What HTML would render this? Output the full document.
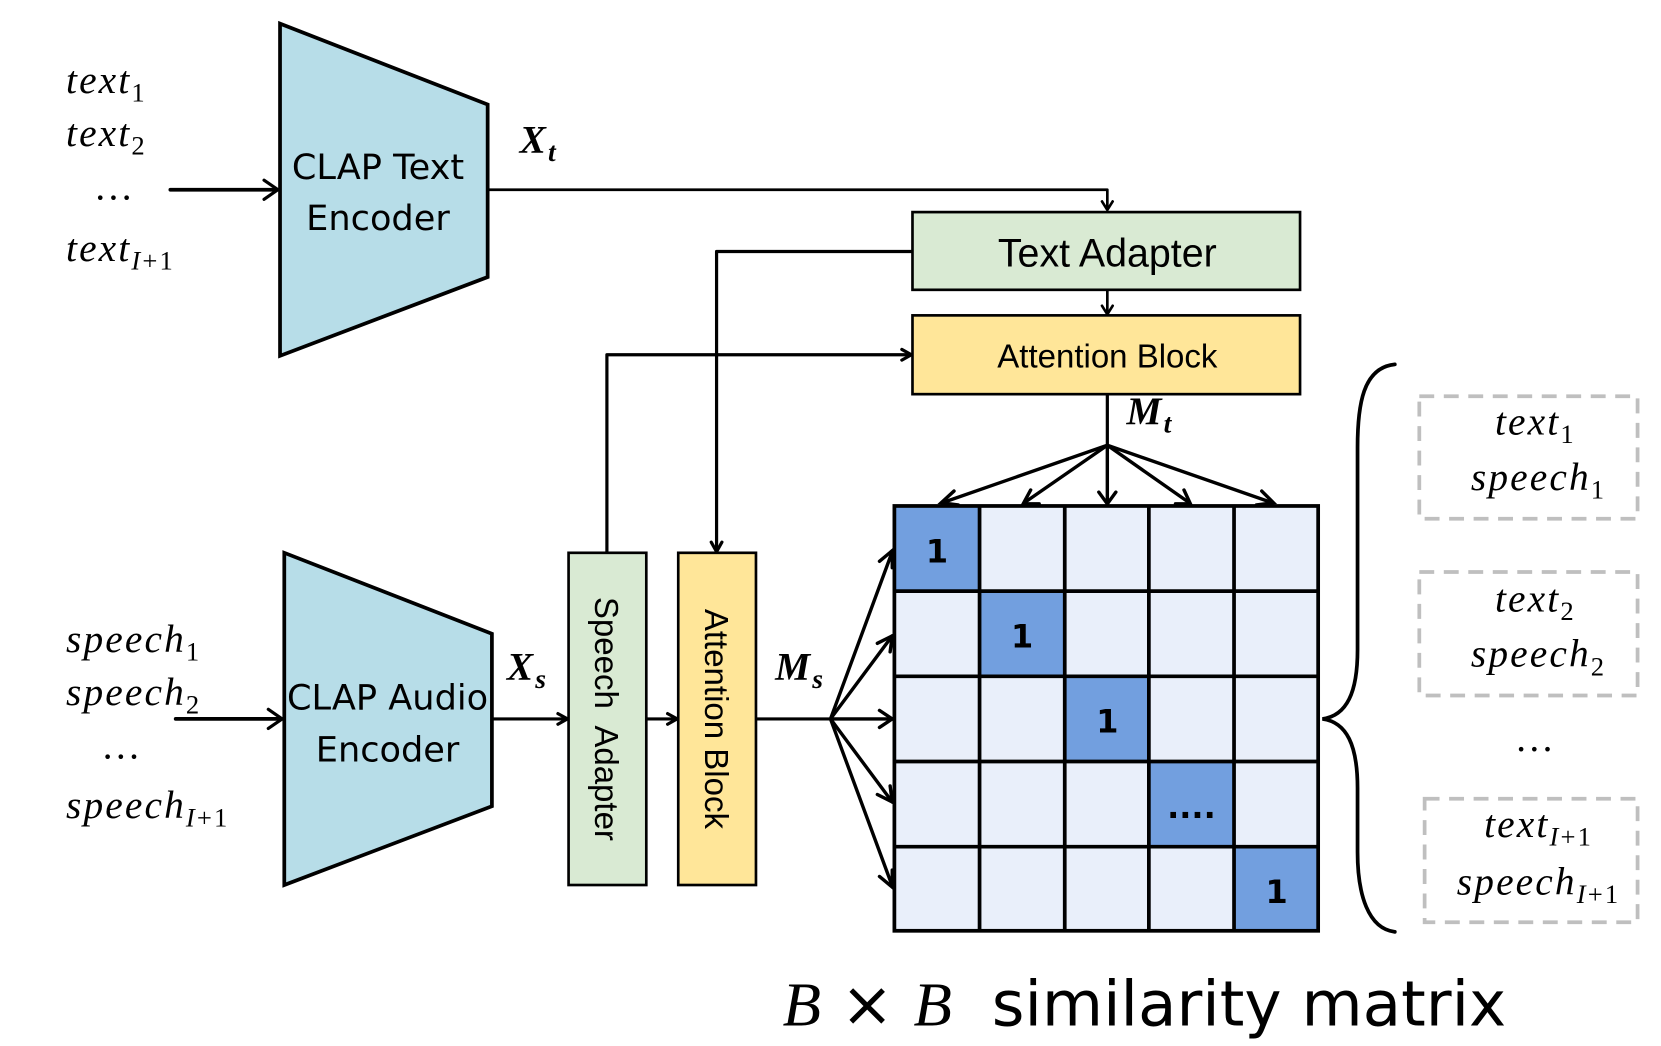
<!DOCTYPE html>
<html><head><meta charset="utf-8"><style>
html,body{margin:0;padding:0;background:#fff;}
svg{display:block;}
.m{font-family:"Liberation Serif",serif;font-style:italic;letter-spacing:2px;}
.u{font-style:normal;}
.s{font-family:"DejaVu Sans","Liberation Sans",sans-serif;}
</style></head><body>
<svg width="1661" height="1046" viewBox="0 0 1560 982" xmlns="http://www.w3.org/2000/svg">
<g fill="none" stroke="#000" stroke-width="3" stroke-linecap="round" stroke-linejoin="round">
<line x1="160" y1="178" x2="260" y2="178" stroke-width="3.5"/>
<polyline points="248,169 261,178 248,187"/>
<line x1="165" y1="675" x2="264" y2="675" stroke-width="3.5"/>
<polyline points="252,666 265,675 252,684"/>
<polyline points="458,178 1040,178 1040,196" stroke-width="2.5"/>
<polyline points="1035,189 1040,197 1045,189" stroke-width="2.5"/>
<line x1="1040" y1="272" x2="1040" y2="294" stroke-width="2.5"/>
<polyline points="1035,287 1040,295 1045,287" stroke-width="2.5"/>
<polyline points="857,236 673,236 673,517" stroke-width="3"/>
<polyline points="668,509 673,518 678,509" stroke-width="3"/>
<polyline points="570,519 570,333 855,333" stroke-width="3"/>
<polyline points="847,328 856,333 847,338" stroke-width="3"/>
<line x1="462" y1="675" x2="532" y2="675" stroke-width="3"/>
<polyline points="524,670 533,675 524,680"/>
<line x1="607" y1="675" x2="635" y2="675" stroke-width="3"/>
<polyline points="627,670 636,675 627,680"/>
<line x1="710" y1="675" x2="780" y2="675"/>
<line x1="1040" y1="370" x2="1040" y2="418"/>
</g>
<polygon points="263,22 458,98 458,260 263,334" fill="#b7dde8" stroke="#000" stroke-width="3.5"/>
<polygon points="267,519 462,595 462,757 267,831" fill="#b7dde8" stroke="#000" stroke-width="3.5"/>
<rect x="857" y="199" width="364" height="73" fill="#d9ead3" stroke="#000" stroke-width="2.5"/>
<rect x="857" y="296" width="364" height="74" fill="#ffe699" stroke="#000" stroke-width="2.5"/>
<rect x="534" y="519" width="73" height="312" fill="#d9ead3" stroke="#000" stroke-width="2.5"/>
<rect x="637" y="519" width="73" height="312" fill="#ffe699" stroke="#000" stroke-width="2.5"/>
<rect x="840" y="475" width="398" height="399" fill="#e9effa"/>
<g fill="#729fdf">
<rect x="840" y="475" width="80" height="80"/>
<rect x="920" y="555" width="80" height="80"/>
<rect x="1000" y="635" width="79" height="80"/>
<rect x="1079" y="715" width="80" height="80"/>
<rect x="1159" y="795" width="79" height="79"/>
</g>
<g stroke="#000" stroke-width="3.5" fill="none">
<rect x="840" y="475" width="398" height="399"/>
<line x1="920" y1="475" x2="920" y2="874"/><line x1="1000" y1="475" x2="1000" y2="874"/>
<line x1="1079" y1="475" x2="1079" y2="874"/><line x1="1159" y1="475" x2="1159" y2="874"/>
<line x1="840" y1="555" x2="1238" y2="555"/><line x1="840" y1="635" x2="1238" y2="635"/>
<line x1="840" y1="715" x2="1238" y2="715"/><line x1="840" y1="795" x2="1238" y2="795"/>
</g>
<g stroke="#000" stroke-width="3.2" fill="none" stroke-linecap="round">
<line x1="1040" y1="418" x2="885" y2="472"/><polyline points="896,461 884,472 900,474"/>
<line x1="1040" y1="418" x2="962" y2="472"/><polyline points="968,460 961,473 976,473"/>
<line x1="1040" y1="418" x2="1040" y2="472"/><polyline points="1032,462 1040,473 1048,462"/>
<line x1="1040" y1="418" x2="1117" y2="472"/><polyline points="1104,473 1118,473 1112,460"/>
<line x1="1040" y1="418" x2="1195" y2="472"/><polyline points="1180,474 1196,472 1185,461"/>
<line x1="780" y1="675" x2="838" y2="518"/><polyline points="826,527 838,517 838,533"/>
<line x1="780" y1="675" x2="838" y2="597"/><polyline points="824,604 838,597 836,612"/>
<line x1="780" y1="675" x2="838" y2="675"/><polyline points="826,667 838,675 826,683"/>
<line x1="780" y1="675" x2="838" y2="753"/><polyline points="836,738 838,753 824,746"/>
<line x1="780" y1="675" x2="838" y2="832"/><polyline points="838,817 838,833 826,823"/>
<path d="M1310,342 C1280,345 1275,380 1275,420 L1275,610 C1275,650 1265,672 1242,675 C1265,678 1275,700 1275,740 L1275,800 C1275,840 1285,872 1310,875" stroke-width="3.5"/>
</g>
<g fill="none" stroke="#bfbfbf" stroke-width="3.5" stroke-dasharray="14,9">
<rect x="1333" y="372" width="205" height="115"/>
<rect x="1333" y="537" width="205" height="116"/>
<rect x="1338" y="750" width="200" height="116"/>
</g>
<g class="s" font-size="33" text-anchor="middle" fill="#000">
<text x="355" y="168">CLAP Text</text>
<text x="355" y="216">Encoder</text>
<text x="364" y="666">CLAP Audio</text>
<text x="364" y="715">Encoder</text>
</g>
<g font-family="Liberation Sans, sans-serif" text-anchor="middle" fill="#000">
<text x="1040" y="250" font-size="37">Text Adapter</text>
<text x="1040" y="345" font-size="31">Attention Block</text>
<text transform="translate(559,675) rotate(90)" font-size="31" xml:space="preserve">Speech  Adapter</text>
<text transform="translate(662,675) rotate(90)" font-size="31">Attention Block</text>
</g>
<g font-family="DejaVu Sans, sans-serif" font-weight="bold" font-size="30" text-anchor="middle">
<text x="880" y="528">1</text><text x="960" y="608">1</text><text x="1040" y="688">1</text>
<text x="1119" y="768">....</text><text x="1199" y="848">1</text>
</g>
<g class="m" font-size="37" fill="#000">
<text x="62" y="87">text<tspan class="u" font-size="25" dy="8">1</tspan></text>
<text x="62" y="137">text<tspan class="u" font-size="25" dy="8">2</tspan></text>
<text x="88" y="187" font-style="normal">…</text>
<text x="62" y="245">text<tspan font-size="25" dy="8">I</tspan><tspan class="u" font-size="25">+1</tspan></text>
<text x="62" y="612">speech<tspan class="u" font-size="25" dy="8">1</tspan></text>
<text x="62" y="662">speech<tspan class="u" font-size="25" dy="8">2</tspan></text>
<text x="95" y="712" font-style="normal">…</text>
<text x="62" y="768">speech<tspan font-size="25" dy="8">I</tspan><tspan class="u" font-size="25">+1</tspan></text>
<text x="488" y="143" font-weight="bold">X<tspan font-size="26" dy="8">t</tspan></text>
<text x="476" y="638" font-weight="bold">X<tspan font-size="26" dy="8">s</tspan></text>
<text x="728" y="638" font-weight="bold">M<tspan font-size="26" dy="8">s</tspan></text>
<text x="1058" y="398" font-weight="bold">M<tspan font-size="26" dy="8">t</tspan></text>
</g>
<g class="m" font-size="37" text-anchor="middle" fill="#000">
<text x="1442" y="408">text<tspan class="u" font-size="25" dy="8">1</tspan></text>
<text x="1445" y="460">speech<tspan class="u" font-size="25" dy="8">1</tspan></text>
<text x="1442" y="574">text<tspan class="u" font-size="25" dy="8">2</tspan></text>
<text x="1445" y="626">speech<tspan class="u" font-size="25" dy="8">2</tspan></text>
<text x="1442" y="705" font-style="normal">…</text>
<text x="1445" y="786">text<tspan font-size="25" dy="8">I</tspan><tspan class="u" font-size="25">+1</tspan></text>
<text x="1445" y="840">speech<tspan font-size="25" dy="8">I</tspan><tspan class="u" font-size="25">+1</tspan></text>
</g>
<text x="735" y="963" font-size="59" fill="#000"><tspan font-family="Liberation Serif,serif" font-style="italic">B</tspan><tspan font-family="DejaVu Sans,sans-serif"> × </tspan><tspan font-family="Liberation Serif,serif" font-style="italic">B</tspan><tspan font-family="DejaVu Sans,sans-serif" xml:space="preserve">  similarity matrix</tspan></text>
</svg>
</body></html>
